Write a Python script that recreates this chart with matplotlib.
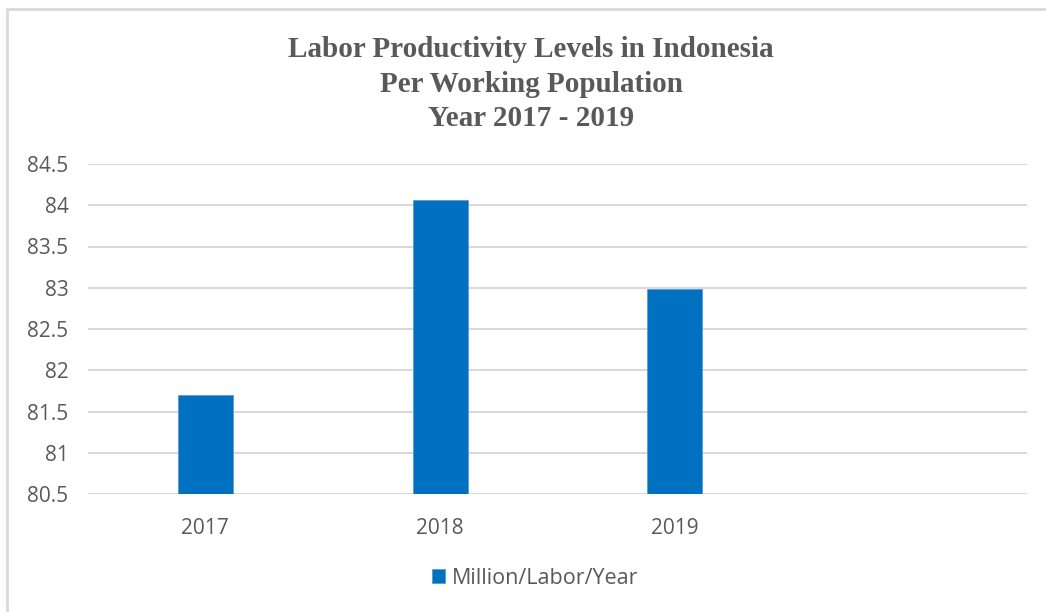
import matplotlib.pyplot as plt
from matplotlib.patches import Rectangle

# data
years = ["2017", "2018", "2019"]
productivity = [81.70, 84.06, 82.98]
y_ticks = [80.5, 81, 81.5, 82, 82.5, 83, 83.5, 84, 84.5]
series_name = "Million/Labor/Year"
title = "Labor Productivity Levels in Indonesia\nPer Working Population\nYear 2017 - 2019"

W, H = 1046, 612
fig = plt.figure(figsize=(W / 100, H / 100), dpi=100)
ax = fig.add_axes([88 / W, 1 - 494 / H, (1027 - 88) / W, (494 - 164) / H])

grey = "#595959"
blue = "#0070C0"

x = list(range(len(years)))
ax.bar(x, [v - 80.5 for v in productivity], bottom=80.5, width=0.235,
       color=blue, edgecolor="#5B9BD5", linewidth=0.6, zorder=3, label=series_name)

ax.set_xlim(-0.5, 3.5)
ax.set_ylim(80.5, 84.5)
ax.set_yticks(y_ticks)
ax.set_yticklabels([f"{t:g}" for t in y_ticks])
ax.set_xticks(x)
ax.set_xticklabels(years)
ax.grid(axis="y", color="#d9d9d9", linewidth=1.5, zorder=0)
for s in ax.spines.values():
    s.set_visible(False)
ax.tick_params(length=0, colors=grey, labelsize=15)
ax.tick_params(axis="y", pad=14)
ax.tick_params(axis="x", pad=17)
for lab in ax.get_xticklabels() + ax.get_yticklabels():
    lab.set_fontfamily("Open Sans")

fig.text(531 / W, 1 - 84 / H, title, ha="center", va="center",
         fontfamily="Liberation Serif", fontweight="bold", fontsize=21,
         color=grey, linespacing=1.38)

leg = fig.legend(loc="center", bbox_to_anchor=(535 / W, 1 - 578 / H), frameon=False,
                 prop={"family": "Open Sans", "size": 15.5}, handlelength=0.6,
                 handleheight=0.6, handletextpad=0.3)
for t in leg.get_texts():
    t.set_color(grey)

# chart frame
fig.patches.append(Rectangle((7 / W, -0.1), 1.2, 1 - 9 / H + 0.1, transform=fig.transFigure,
                             fill=False, edgecolor="#d9d9d9", linewidth=2, clip_on=False))

fig.savefig("out.png", dpi=100)
